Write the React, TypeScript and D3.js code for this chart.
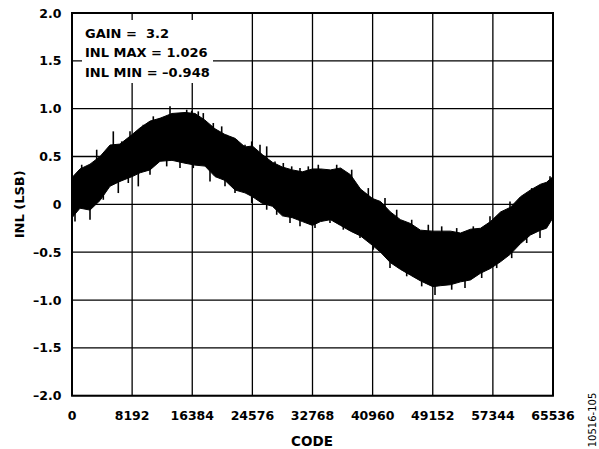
import React from "react";
import * as d3 from "d3";

const codes = [0,1090,2453,3815,5178,6540,8192,9282,10628,11990,13625,15396,16759,18121,19484,20846,22209,23571,24576,25938,27301,28663,30026,31388,32768,33858,35220,36583,37945,39308,40960,42033,43395,44758,46120,47483,49152,50208,51570,52933,54295,55658,57020,58383,59745,61108,62470,63833,64650,65536];
const inlUpper = [0.28,0.37,0.42,0.50,0.62,0.63,0.73,0.80,0.87,0.90,0.95,0.96,0.95,0.88,0.79,0.73,0.69,0.60,0.61,0.52,0.44,0.39,0.36,0.34,0.37,0.37,0.36,0.38,0.31,0.16,0.06,0.03,-0.08,-0.16,-0.20,-0.27,-0.28,-0.28,-0.28,-0.30,-0.26,-0.25,-0.18,-0.08,-0.03,0.08,0.15,0.21,0.23,0.29];
const inlLower = [-0.14,-0.04,-0.06,0.04,0.19,0.24,0.29,0.33,0.36,0.45,0.46,0.43,0.41,0.40,0.29,0.25,0.15,0.12,0.08,0.01,-0.02,-0.12,-0.14,-0.18,-0.22,-0.18,-0.16,-0.22,-0.28,-0.33,-0.43,-0.50,-0.61,-0.68,-0.74,-0.80,-0.86,-0.85,-0.84,-0.81,-0.79,-0.72,-0.67,-0.60,-0.52,-0.41,-0.32,-0.27,-0.25,-0.14];

const spikeUpCodes = [1322,3365,4496,5627,6772,7903,9715,11077,11990,13353,14483,15628,16309,17208,17889,19252,20396,21078,22440,23571,24484,25615,26528,27659,28790,29934,31065,32196,33558,36065,38109,40371,42646,44240,46284,48546,50371,52415,54677,56952,59677,61040,62634,63997,65128];
const spikeUpValues = [0.414,0.571,0.518,0.763,0.658,0.763,0.832,0.920,0.902,1.026,0.954,0.989,0.978,0.972,0.954,0.850,0.815,0.727,0.675,0.623,0.658,0.623,0.606,0.449,0.432,0.397,0.379,0.397,0.414,0.414,0.362,0.170,0.066,-0.056,-0.161,-0.213,-0.230,-0.248,-0.230,-0.125,0.031,0.066,0.170,0.170,0.293];
const spikeDownCodes = [409,2453,4265,6308,7671,9033,10628,12903,14715,16527,18803,20846,22209,24484,26528,27890,29703,31065,32659,33109,35153,36965,39240,41052,43327,45603,47646,49459,51734,53546,55821,57865,59909,61952,63765,65128];
const spikeDownValues = [-0.178,-0.161,0.048,0.118,0.223,0.188,0.309,0.397,0.379,0.379,0.240,0.188,0.118,0.014,-0.056,-0.109,-0.195,-0.230,-0.213,-0.248,-0.195,-0.265,-0.352,-0.474,-0.666,-0.752,-0.857,-0.948,-0.892,-0.875,-0.770,-0.666,-0.562,-0.404,-0.352,-0.161];

const xTicks = [0, 8192, 16384, 24576, 32768, 40960, 49152, 57344, 65536];
const yTicks = [2.0, 1.5, 1.0, 0.5, 0, -0.5, -1.0, -1.5, -2.0];
const notes = ["GAIN =  3.2", "INL MAX = 1.026", "INL MIN = \u20130.948"];

const W = 599, H = 449;
const left = 72, right = 553, top = 13, bottom = 395.7;
const font = "'DejaVu Sans', sans-serif";
const spikeLen = 16;

function fmtY(v: number) {
  if (v === 0) return "0";
  const s = Math.abs(v).toFixed(1);
  return v < 0 ? "\u2013" + s : s;
}

export default function App() {
  const x = d3.scaleLinear().domain([0, 65536]).range([left, right]);
  const y = d3.scaleLinear().domain([-2, 2]).range([bottom, top]);
  const rows = codes.map((c, i) => ({ c, hi: inlUpper[i], lo: inlLower[i] }));
  const area = d3.area<{ c: number; hi: number; lo: number }>()
    .x(d => x(d.c))
    .y0(d => y(d.lo))
    .y1(d => y(d.hi));

  return (
    <svg width={W} height={H} style={{ position: "absolute", left: 0, top: 0, background: "#fff" }}>
      {xTicks.map(t => (
        <line key={"vx" + t} x1={x(t)} x2={x(t)} y1={top} y2={bottom} stroke="#000" strokeWidth={1.3} />
      ))}
      {yTicks.map(t => (
        <line key={"hy" + t} x1={left} x2={right} y1={y(t)} y2={y(t)} stroke="#000" strokeWidth={1.3} />
      ))}
      <rect x={82} y={20} width={131} height={63} fill="#fff" />
      <path d={area(rows) || ""} fill="#000" stroke="#000" strokeWidth={1} />
      {spikeUpCodes.map((c, i) => (
        <line key={"su" + i} x1={x(c)} x2={x(c)} y1={y(spikeUpValues[i])} y2={y(spikeUpValues[i]) + spikeLen} stroke="#000" strokeWidth={1.6} />
      ))}
      {spikeDownCodes.map((c, i) => (
        <line key={"sd" + i} x1={x(c)} x2={x(c)} y1={y(spikeDownValues[i])} y2={y(spikeDownValues[i]) - spikeLen} stroke="#000" strokeWidth={1.6} />
      ))}
      <rect x={left} y={top} width={right - left} height={bottom - top} fill="none" stroke="#000" strokeWidth={2} />
      {yTicks.map(t => (
        <text key={"yl" + t} x={61.5} y={y(t)} dy="0.36em" textAnchor="end" fontFamily={font} fontWeight="bold" fontSize={12.5}>{fmtY(t)}</text>
      ))}
      {xTicks.map(t => (
        <text key={"xl" + t} x={x(t)} y={419.5} textAnchor="middle" fontFamily={font} fontWeight="bold" fontSize={12.5}>{t}</text>
      ))}
      {notes.map((n, i) => (
        <text key={n} x={85} y={37.5 + i * 19.9} fontFamily={font} fontWeight="bold" fontSize={13} style={{ whiteSpace: "pre" }}>{n}</text>
      ))}
      <text x={312} y={445.5} textAnchor="middle" fontFamily={font} fontWeight="bold" fontSize={13.5}>CODE</text>
      <text transform={`translate(24,${(top + bottom) / 2}) rotate(-90)`} textAnchor="middle" fontFamily={font} fontWeight="bold" fontSize={13}>INL (LSB)</text>
      <text transform="translate(596,420) rotate(-90)" textAnchor="middle" fontFamily={font} fontSize={10}>10516-105</text>
    </svg>
  );
}
